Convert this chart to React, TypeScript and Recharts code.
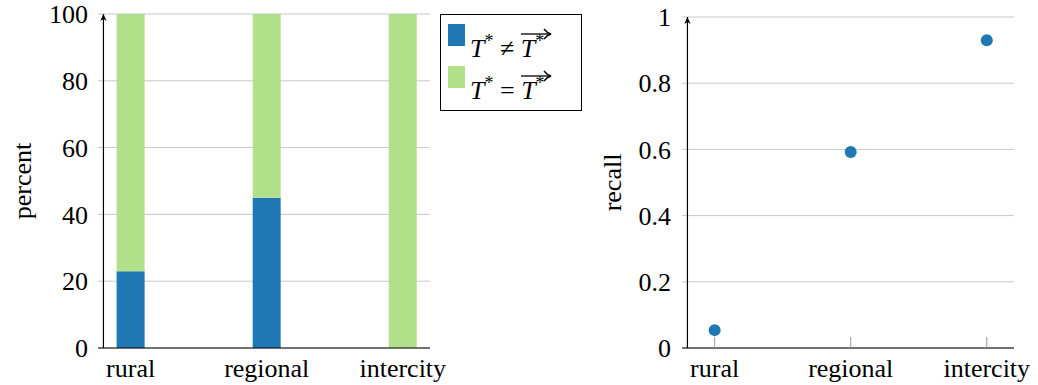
import React from 'react';
import {
  ComposedChart,
  Bar,
  Scatter,
  XAxis,
  YAxis,
  CartesianGrid,
  ReferenceLine,
  Legend,
} from 'recharts';

const categories = ['rural', 'regional', 'intercity'];
const mismatchPct = [23, 45, 0];
const matchPct = [77, 55, 100];
const recallValues = [0.054, 0.592, 0.93];
const percentTicks = [0, 20, 40, 60, 80, 100];
const recallTicks = [0, 0.2, 0.4, 0.6, 0.8, 1];

const BLUE = '#1f77b4';
const GREEN = '#b2df8a';
const GRID = '#c8c8c8';
const FONT = "'Liberation Serif', 'DejaVu Serif', serif";
const FS = 26;

const barData = categories.map((c, i) => ({ idx: i, name: c, neq: mismatchPct[i], eq: matchPct[i] }));
const recallData = categories.map((c, i) => ({ idx: i, name: c, recall: recallValues[i] }));

const xDomain: [number, number] = [-0.24, 2.2];

// y axis drawn as a line with an arrow head at the top
const ArrowAxis = (props: any) => {
  const { x1, y1, x2, y2 } = props;
  const top = Math.min(y1, y2);
  const bottom = Math.max(y1, y2);
  return (
    <g>
      <line x1={x1} x2={x2} y1={bottom} y2={top} stroke="#000" strokeWidth={1.2} />
      <path d={`M${x1},${top} L${x1 - 3.2},${top + 7} L${x1},${top + 5} L${x1 + 3.2},${top + 7} Z`} fill="#000" />
    </g>
  );
};

const axisLabel = (text: string, cx: number) => (props: any) => {
  const vb = props.viewBox || {};
  const cy = vb.y + vb.height / 2;
  return (
    <text
      x={cx}
      y={cy}
      transform={`rotate(-90, ${cx}, ${cy})`}
      textAnchor="middle"
      dominantBaseline="central"
      fontFamily={FONT}
      fontSize={FS}
      fill="#000"
    >
      {text}
    </text>
  );
};

const CatTick = (props: any) => {
  const { x, y, payload, marks } = props;
  const axisY = y - 11;
  return (
    <g>
      {marks && <line x1={x} x2={x} y1={axisY} y2={axisY - 11} stroke="#999" strokeWidth={1} />}
      <text x={x} y={y} dy="0.71em" textAnchor="middle" style={{ fontFamily: FONT }} fontSize={FS} fill="#000">
        {categories[payload.value]}
      </text>
    </g>
  );
};

const NumTick = (props: any) => {
  const { x, y, payload } = props;
  return (
    <text x={x} y={y} dy="0.355em" textAnchor="end" style={{ fontFamily: FONT }} fontSize={FS} fill="#000">
      {payload.value}
    </text>
  );
};

const TStar = ({ arrow }: { arrow?: boolean }) => (
  <span style={{ position: 'relative', display: 'inline-block' }}>
    {arrow && (
      <svg
        width={32}
        height={12}
        style={{ position: 'absolute', left: -1, top: -6 }}
        viewBox="0 0 32 12"
      >
        <line x1={1} y1={6} x2={30} y2={6} stroke="#000" strokeWidth={1.3} />
        <path d="M24,1 Q27,5 31,6 Q27,7 24,11" fill="none" stroke="#000" strokeWidth={1.3} />
      </svg>
    )}
    <span style={{ fontStyle: 'italic' }}>T</span>
    <span style={{ fontSize: 18, verticalAlign: 'super', lineHeight: 0 }}>*</span>
  </span>
);

const LegendBox = () => (
  <div
    style={{
      width: 140,
      height: 95,
      border: '1px solid #000',
      background: '#fff',
      fontFamily: FONT,
      fontSize: FS,
      color: '#000',
      boxSizing: 'content-box',
    }}
  >
    {[
      { color: BLUE, sym: '≠' },
      { color: GREEN, sym: '=' },
    ].map((e, i) => (
      <div key={i} style={{ position: 'relative', height: 42, marginTop: i === 0 ? 9 : 0 }}>
        <div style={{ position: 'absolute', left: 7, top: 0, width: 17, height: 22, background: e.color }} />
        <div style={{ position: 'absolute', left: 29, top: 10, whiteSpace: 'nowrap', lineHeight: '30px' }}>
          <TStar /> <span>{e.sym}</span> <TStar arrow />
        </div>
      </div>
    ))}
  </div>
);

export default function App() {
  return (
    <div style={{ position: 'absolute', left: 0, top: 0, width: 1038, height: 385, background: '#fff', fontFamily: FONT }}>
      <div style={{ position: 'absolute', left: 0, top: 0 }}>
        <ComposedChart
          width={590}
          height={385}
          data={barData}
          margin={{ top: 14, right: 160, bottom: 0, left: 0 }}
          style={{ fontFamily: FONT }}
        >
          <CartesianGrid vertical={false} stroke={GRID} strokeWidth={1} />
          <XAxis
            type="number"
            dataKey="idx"
            domain={xDomain}
            ticks={[0, 1, 2]}
            allowDataOverflow
            height={37}
            tickLine={false}
            tickSize={0}
            tickMargin={11}
            axisLine={{ stroke: '#000', strokeWidth: 1.2 }}
            tick={<CatTick />}
            interval={0}
          />
          <YAxis
            type="number"
            domain={[0, 100]}
            ticks={percentTicks}
            width={98}
            axisLine={false}
            tickLine={false}
            tickSize={0}
            tickMargin={10}
            tick={<NumTick />}
            label={{ content: axisLabel('percent', 22) }}
          />
          <Bar dataKey="neq" stackId="a" fill={BLUE} barSize={28} isAnimationActive={false} />
          <Bar dataKey="eq" stackId="a" fill={GREEN} barSize={28} isAnimationActive={false} />
          <ReferenceLine x={-0.2} ifOverflow="visible" shape={ArrowAxis} />
          <Legend
            layout="vertical"
            align="center"
            verticalAlign="middle"
            wrapperStyle={{ left: 440, top: 14, width: 142, height: 97 }}
            content={() => <LegendBox />}
          />
        </ComposedChart>
      </div>
      <div style={{ position: 'absolute', left: 590, top: 0 }}>
        <ComposedChart
          width={448}
          height={385}
          data={recallData}
          margin={{ top: 17, right: 24, bottom: 0, left: 0 }}
          style={{ fontFamily: FONT }}
        >
          <CartesianGrid vertical={false} stroke={GRID} strokeWidth={1} />
          <XAxis
            type="number"
            dataKey="idx"
            domain={xDomain}
            ticks={[0, 1, 2]}
            allowDataOverflow
            height={37}
            tickLine={false}
            tickSize={0}
            tickMargin={11}
            axisLine={{ stroke: '#000', strokeWidth: 1.2 }}
            tick={<CatTick marks />}
            interval={0}
          />
          <YAxis
            type="number"
            dataKey="recall"
            domain={[0, 1]}
            ticks={recallTicks}
            width={92}
            axisLine={false}
            tickLine={false}
            tickSize={0}
            tickMargin={11}
            tick={<NumTick />}
            label={{ content: axisLabel('recall', 22) }}
          />
          <Scatter
            dataKey="recall"
            fill={BLUE}
            isAnimationActive={false}
            shape={(p: any) => <circle cx={p.cx} cy={p.cy} r={6} fill={BLUE} />}
          />
          <ReferenceLine x={-0.2} ifOverflow="visible" shape={ArrowAxis} />
        </ComposedChart>
      </div>
    </div>
  );
}
